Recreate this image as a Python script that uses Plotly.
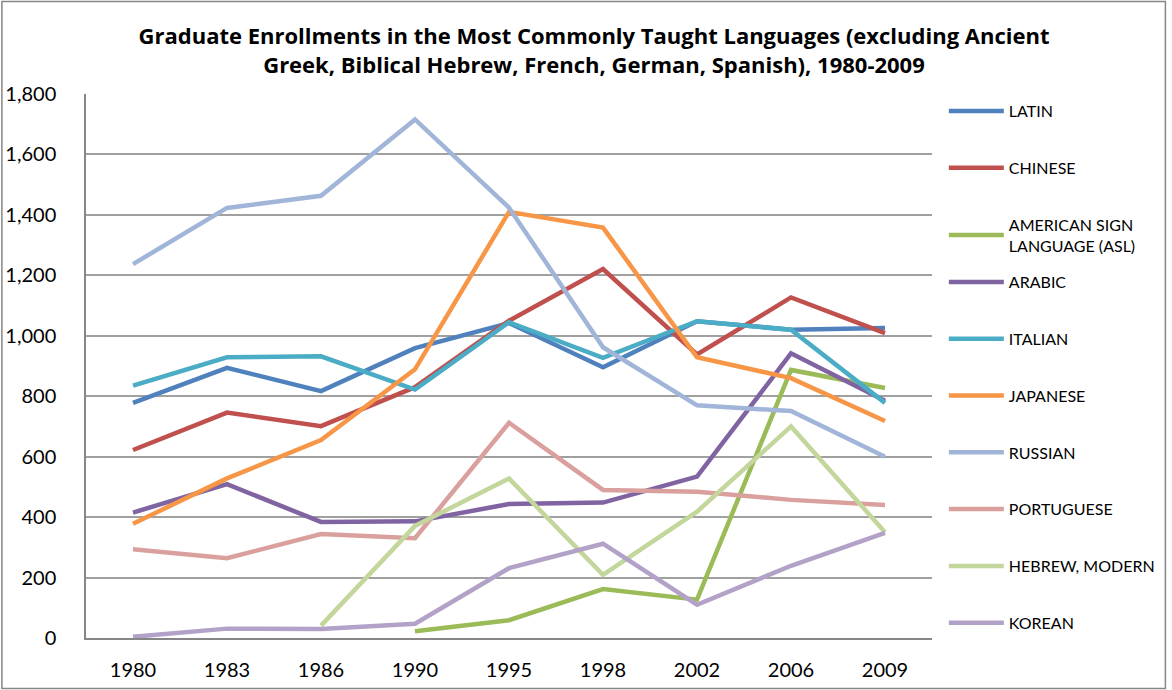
import plotly.graph_objects as go

years = ["1980", "1983", "1986", "1990", "1995", "1998", "2002", "2006", "2009"]

latin = [778, 894, 817, 959, 1042, 896, 1048, 1020, 1026]
chinese = [622, 746, 701, 830, 1050, 1221, 938, 1127, 1009]
asl = [None, None, None, 22, 59, 162, 127, 887, 827]
arabic = [415, 509, 384, 386, 443, 448, 534, 942, 785]
italian = [835, 929, 932, 822, 1045, 927, 1048, 1020, 778]
japanese = [378, 528, 655, 889, 1410, 1358, 929, 860, 718]
russian = [1237, 1423, 1463, 1716, 1424, 962, 770, 751, 600]
portuguese = [294, 264, 344, 330, 712, 490, 484, 457, 440]
hebrew = [None, None, 41, 371, 528, 209, 418, 700, 350]
korean = [4, 31, 30, 47, 231, 312, 110, 239, 348]

series_names = ["LATIN", "CHINESE", "AMERICAN SIGN<br>LANGUAGE (ASL)", "ARABIC", "ITALIAN",
                "JAPANESE", "RUSSIAN", "PORTUGUESE", "HEBREW, MODERN", "KOREAN"]
series_values = [latin, chinese, asl, arabic, italian, japanese, russian, portuguese, hebrew, korean]
series_colors = ["#4F81BD", "#C0504D", "#9BBB59", "#8064A2", "#4BACC6",
                 "#F79646", "#A0B5D8", "#D9A09D", "#C3D69B", "#B3A2C7"]

y_ticks = [0, 200, 400, 600, 800, 1000, 1200, 1400, 1600, 1800]
y_ticklabels = ["0", "200", "400", "600", "800", "1,000", "1,200", "1,400", "1,600", "1,800"]

fig = go.Figure()
for i, (name, vals, col) in enumerate(zip(series_names, series_values, series_colors)):
    fig.add_trace(go.Scatter(
        x=years, y=vals, name=name, mode="lines",
        line=dict(color=col, width=4.5),
        connectgaps=False, legendgroup=f"g{i}",
        legend="legend" if i < 3 else "legend2",
    ))

legend_common = dict(
    x=1.014, xanchor="left", yanchor="top",
    font=dict(size=16, color="black"),
    tracegroupgap=33,
    bgcolor="rgba(0,0,0,0)",
    itemwidth=55,
)

fig.update_layout(
    width=1172, height=690,
    margin=dict(l=86, r=236, t=94, b=52),
    paper_bgcolor="white", plot_bgcolor="white",
    font=dict(family="Lato, 'Open Sans', sans-serif", color="black"),
    title=dict(
        text="<b>Graduate Enrollments in the Most Commonly Taught Languages (excluding Ancient<br>Greek, Biblical Hebrew, French, German, Spanish), 1980-2009</b>",
        xref="container", x=594 / 1172, xanchor="center",
        yref="container", y=1 - 44 / 690, yanchor="middle",
        font=dict(family="'Open Sans', sans-serif", size=22, color="black"),
    ),
    showlegend=True,
    legend=dict(y=1.0, **legend_common),
    legend2=dict(y=(638 - 265) / 544, **legend_common),
    xaxis=dict(
        type="category", range=[-0.5, 8.5],
        showline=True, linecolor="#868686", linewidth=1.5,
        showgrid=False, ticks="",
        tickfont=dict(size=20, color="black"),
        ticklabelstandoff=13, automargin=False,
    ),
    yaxis=dict(
        range=[0, 1800],
        tickvals=y_ticks, ticktext=y_ticklabels,
        showline=True, linecolor="#868686", linewidth=1.5,
        showgrid=True, gridcolor="#A0A0A0", gridwidth=1.5,
        ticks="", tickfont=dict(size=20, color="black"),
        ticklabelstandoff=24, automargin=False,
        zeroline=False,
    ),
    shapes=[dict(
        type="rect", xref="paper", yref="paper",
        x0=(1.5 - 86) / 850, x1=(1170.5 - 86) / 850,
        y0=(638 - 688.5) / 544, y1=(638 - 1.5) / 544,
        line=dict(color="#868686", width=1.5), fillcolor="rgba(0,0,0,0)", layer="below",
    )],
)

fig.write_html("out.html", config={"displayModeBar": False},
               post_script="document.body.style.margin='0';")
